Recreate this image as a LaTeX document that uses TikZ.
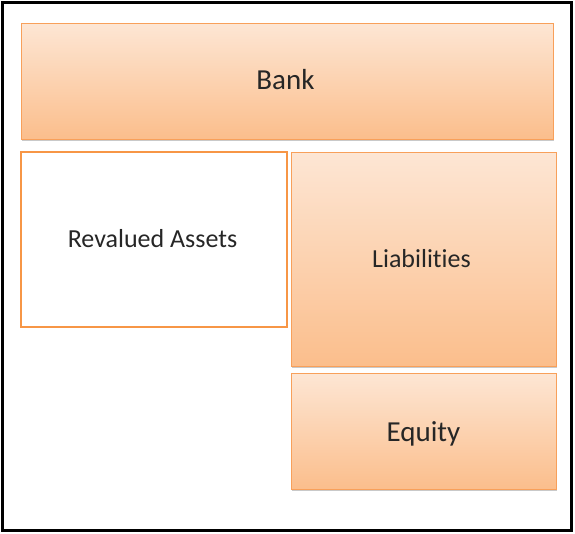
\documentclass[tikz,border=0pt]{standalone}
\usepackage{fontspec}
\setmainfont[Ligatures={NoCommon}]{Carlito}
\usetikzlibrary{shadows}
\definecolor{topc}{HTML}{FDE6D4}
\definecolor{botc}{HTML}{FBBE8C}
\definecolor{edgec}{HTML}{F8A05A}
\definecolor{strongorange}{HTML}{F79646}
\definecolor{txt}{HTML}{262626}
\tikzset{
  gbox/.style={draw=edgec, line width=1pt, top color=topc, bottom color=botc,
    drop shadow={shadow xshift=0.6pt, shadow yshift=-2pt, opacity=0.35, fill=black!60}},
  wbox/.style={draw=strongorange, line width=2.8pt, fill=white},
  big/.style={font=\fontsize{29}{32}\selectfont, text=txt, anchor=base},
  med/.style={font=\fontsize{26}{30}\selectfont, text=txt, anchor=base}
}
\begin{document}
\begin{tikzpicture}[x=1pt,y=-1pt]
\useasboundingbox (0,0) rectangle (575,533);
\fill[white] (0,0) rectangle (575,533);
\draw[line width=3pt] (2.5,2.5) rectangle (571.5,530);
\path[gbox] (21,23) rectangle (553,139);
\path[wbox] (21,152) rectangle (287,327);
\path[gbox] (291,152) rectangle (556,366);
\path[gbox] (291,373) rectangle (556,489);
\node[big] (bank) at (285.5,89) {Bank};
\node[med] (rev) at (152.5,247) {Revalued Assets};
\node[med] (liab) at (421.5,267) {Liabilities};
\node[big] (eq) at (423.5,441) {Equity};
\end{tikzpicture}
\end{document}
